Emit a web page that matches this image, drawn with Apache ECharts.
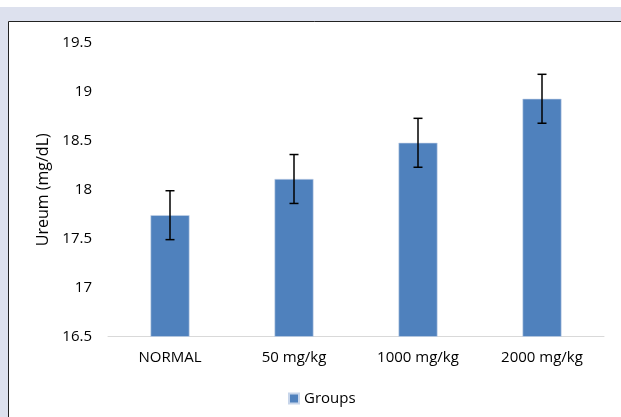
<!DOCTYPE html>
<html>
<head>
<meta charset="utf-8">
<script src="https://cdn.jsdelivr.net/npm/echarts@6/dist/echarts.min.js"></script>
<style>
html,body{margin:0;padding:0;background:#fff;}
#c{width:621px;height:417px;}
</style>
</head>
<body>
<div id="c"></div>
<script>
const categories = ['NORMAL', '50 mg/kg', '1000 mg/kg', '2000 mg/kg'];
const means = [17.74, 18.11, 18.48, 18.93];
const errors = [0.25, 0.25, 0.25, 0.25];
const yTicks = { min: 16.5, max: 19.5, interval: 0.5 };

const FONT = 'Open Sans';
const chart = echarts.init(document.getElementById('c'), null, { renderer: 'canvas' });

const errData = means.map((m, i) => [i, m - errors[i], m + errors[i]]);

chart.setOption({
  animation: false,
  backgroundColor: '#ffffff',
  textStyle: { fontFamily: FONT },
  graphic: [
    { type: 'rect', shape: { x: 0, y: 7, width: 621, height: 14 }, style: { fill: '#dde1ee' }, silent: true, z: -10 },
    { type: 'rect', shape: { x: 0, y: 7, width: 8, height: 410 }, style: { fill: '#dde1ee' }, silent: true, z: -10 },
    { type: 'line', shape: { x1: 8.5, y1: 21.5, x2: 621, y2: 21.5 }, style: { stroke: '#222', lineWidth: 1 }, silent: true, z: -5 },
    { type: 'line', shape: { x1: 8.5, y1: 21.5, x2: 8.5, y2: 417 }, style: { stroke: '#222', lineWidth: 1 }, silent: true, z: -5 }
  ],
  grid: { left: 108, right: 17, top: 43, bottom: 80.5, containLabel: false },
  legend: {
    data: ['Groups'],
    top: 386,
    left: 283,
    itemWidth: 10,
    itemHeight: 10,
    itemGap: 3,
    icon: 'rect',
    textStyle: { fontFamily: FONT, fontSize: 15, color: '#000' }
  },
  xAxis: {
    type: 'category',
    data: categories,
    axisLine: { show: true, lineStyle: { color: '#d9d9d9', width: 1 } },
    axisTick: { show: false },
    axisLabel: { color: '#000', fontSize: 15, fontFamily: FONT, margin: 14 }
  },
  yAxis: {
    type: 'value',
    min: yTicks.min,
    max: yTicks.max,
    interval: yTicks.interval,
    name: 'Ureum (mg/dL)',
    nameLocation: 'middle',
    nameGap: 52,
    nameRotate: 90,
    nameTextStyle: { color: '#000', fontSize: 16, fontFamily: FONT },
    axisLine: { show: false },
    axisTick: { show: false },
    splitLine: { show: false },
    axisLabel: { color: '#000', fontSize: 15, fontFamily: FONT, margin: 16 }
  },
  series: [
    {
      name: 'Groups',
      type: 'bar',
      data: means,
      barWidth: 39,
      itemStyle: { color: '#4f81bd', borderColor: '#c7d5ea', borderWidth: 0.6 }
    },
    {
      name: 'err',
      type: 'custom',
      data: errData,
      z: 10,
      renderItem: function (params, api) {
        const x = api.value(0);
        const lo = api.coord([x, api.value(1)]);
        const hi = api.coord([x, api.value(2)]);
        const cap = 4.5;
        const st = { stroke: '#000', lineWidth: 1.5 };
        return {
          type: 'group',
          children: [
            { type: 'line', shape: { x1: lo[0], y1: lo[1], x2: hi[0], y2: hi[1] }, style: st },
            { type: 'line', shape: { x1: hi[0] - cap, y1: hi[1], x2: hi[0] + cap, y2: hi[1] }, style: st },
            { type: 'line', shape: { x1: lo[0] - cap, y1: lo[1], x2: lo[0] + cap, y2: lo[1] }, style: st }
          ]
        };
      }
    }
  ]
});
</script>
</body>
</html>
